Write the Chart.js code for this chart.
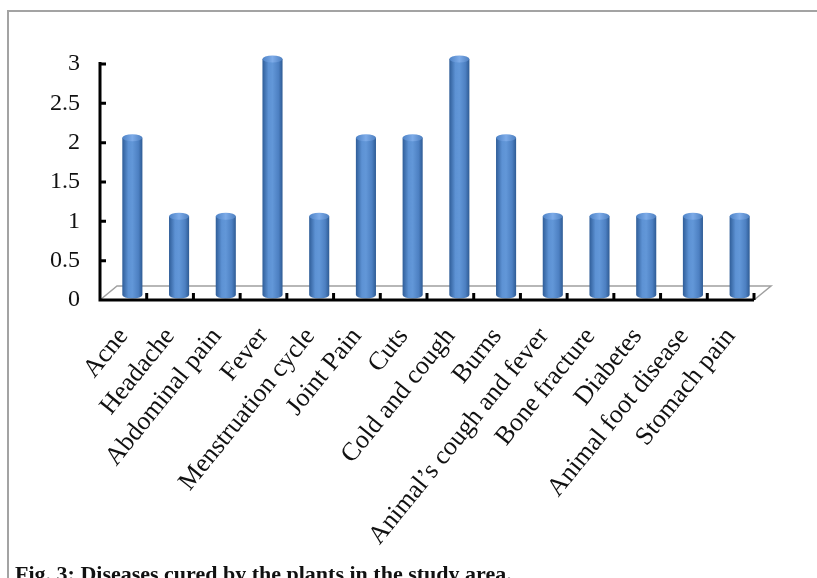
<!DOCTYPE html>
<html lang="en">
<head>
  <meta charset="UTF-8">
  <title>Diseases cured by the plants</title>
  <script src="https://cdn.jsdelivr.net/npm/chart.js"></script>
  <style>
    body { margin: 0; background: #fff; overflow: hidden; }
    #wrap { position: relative; width: 817px; height: 578px; }
    #frame {
      position: absolute; left: 7px; top: 10px; width: 900px; height: 700px;
      border-left: 2px solid #a3a3a3; border-top: 2px solid #a3a3a3;
    }
    canvas { position: absolute; left: 0; top: 0; }
    #caption {
      position: absolute; left: 15px; top: 561px; line-height: 22px;
      font: bold 22px "Liberation Serif", serif; color: #111; white-space: nowrap;
    }
  </style>
</head>
<body>
  <div id="wrap">
    <div id="frame"></div>
    <canvas id="chart" width="817" height="578"></canvas>
    <div id="caption">Fig. 3: Diseases cured by the plants in the study area.</div>
  </div>

  <script>
    // data
    const diseases = [
      "Acne", "Headache", "Abdominal pain", "Fever", "Menstruation cycle",
      "Joint Pain", "Cuts", "Cold and cough", "Burns", "Animal’s cough and fever",
      "Bone fracture", "Diabetes", "Animal foot disease", "Stomach pain"
    ];
    const counts = [2, 1, 1, 3, 1, 2, 2, 3, 2, 1, 1, 1, 1, 1];
    const yTicks = [0, 0.5, 1, 1.5, 2, 2.5, 3];

    // fake 3D: bars sit half way back on the floor
    const DX = 9, DY = -5;
    const FLOOR_DX = 17, FLOOR_DY = -14;
    const BAR_PCT = 0.43;

    function cylGrad(ctx, x0, x1) {
      const g = ctx.createLinearGradient(x0, 0, x1, 0);
      g.addColorStop(0, "#2f5d98");
      g.addColorStop(0.3, "#5d92d4");
      g.addColorStop(0.5, "#6297d8");
      g.addColorStop(0.8, "#4d80c2");
      g.addColorStop(1, "#2e5b94");
      return g;
    }

    const depth = {
      id: "depth",
      beforeDraw(chart) {
        const { ctx, chartArea: a } = chart;
        // floor
        ctx.save();
        ctx.strokeStyle = "#a0a0a0";
        ctx.lineWidth = 1.5;
        ctx.beginPath();
        ctx.moveTo(a.left, a.bottom);
        ctx.lineTo(a.left + FLOOR_DX, a.bottom + FLOOR_DY);
        ctx.lineTo(a.right + FLOOR_DX, a.bottom + FLOOR_DY);
        ctx.lineTo(a.right, a.bottom);
        ctx.stroke();
        ctx.restore();
      },
      beforeDatasetsDraw(chart) {
        chart.ctx.save();
        chart.ctx.translate(DX, DY);
      },
      afterDatasetsDraw(chart) {
        const ctx = chart.ctx;
        chart.getDatasetMeta(0).data.forEach(bar => {
          const w = bar.width, x0 = bar.x - w / 2, x1 = bar.x + w / 2;
          // rounded bottom
          ctx.fillStyle = cylGrad(ctx, x0, x1);
          ctx.beginPath();
          ctx.ellipse(bar.x, bar.base, w / 2, 3.5, 0, 0, Math.PI);
          ctx.fill();
          // top cap
          const g = ctx.createLinearGradient(x0, 0, x1, 0);
          g.addColorStop(0, "#4d82c6");
          g.addColorStop(0.5, "#7dabe8");
          g.addColorStop(1, "#4d7fc0");
          ctx.fillStyle = g;
          ctx.beginPath();
          ctx.ellipse(bar.x, bar.y, w / 2, 3.5, 0, 0, Math.PI * 2);
          ctx.fill();
        });
        ctx.restore();

        // axes with inward ticks, drawn over the bars' feet
        const { chartArea: a, scales } = chart;
        ctx.save();
        ctx.strokeStyle = "#000";
        ctx.lineWidth = 3;
        ctx.beginPath();
        ctx.moveTo(a.left, a.top - 2);
        ctx.lineTo(a.left, a.bottom);
        ctx.lineTo(a.right, a.bottom);
        scales.y.ticks.forEach(t => {
          const y = scales.y.getPixelForValue(t.value);
          ctx.moveTo(a.left, y);
          ctx.lineTo(a.left + 6, y);
        });
        const step = (a.right - a.left) / diseases.length;
        for (let i = 1; i <= diseases.length; i++) {
          const x = scales.x.getPixelForValue(i - 1) + step / 2;
          ctx.moveTo(x, a.bottom);
          ctx.lineTo(x, a.bottom - 7);
        }
        ctx.stroke();
        ctx.restore();
      }
    };

    const serif = "'Liberation Serif', 'Times New Roman', serif";

    new Chart(document.getElementById("chart"), {
      type: "bar",
      data: {
        labels: diseases,
        datasets: [{
          data: counts,
          clip: false,
          barPercentage: BAR_PCT,
          categoryPercentage: 1,
          borderWidth: 0,
          backgroundColor: c => {
            const xs = c.chart.scales.x;
            if (!xs || !c.chart.chartArea) return "#4f81bd";
            const cx = xs.getPixelForValue(c.dataIndex);
            const w = xs.width / diseases.length * BAR_PCT;
            return cylGrad(c.chart.ctx, cx - w / 2, cx + w / 2);
          }
        }]
      },
      options: {
        responsive: false,
        animation: false,
        layout: { padding: { left: 0, right: 63, top: 64, bottom: 0 } },
        plugins: { legend: { display: false }, tooltip: { enabled: false } },
        scales: {
          x: {
            grid: { display: false, drawTicks: false },
            border: { display: false },
            afterFit: s => { s.height = 278; },
            ticks: {
              minRotation: 51, maxRotation: 51, autoSkip: false,
              padding: 22,
              color: "#111",
              font: { family: serif, size: 26 }
            }
          },
          y: {
            min: 0, max: 3,
            afterFit: s => { s.width = 100; },
            afterBuildTicks: s => { s.ticks = yTicks.map(v => ({ value: v })); },
            grid: { display: false, drawTicks: false },
            border: { display: false },
            ticks: {
              padding: 20,
              color: "#111",
              font: { family: serif, size: 24 },
              callback: v => String(v)
            }
          }
        }
      },
      plugins: [depth]
    });
  </script>
</body>
</html>
